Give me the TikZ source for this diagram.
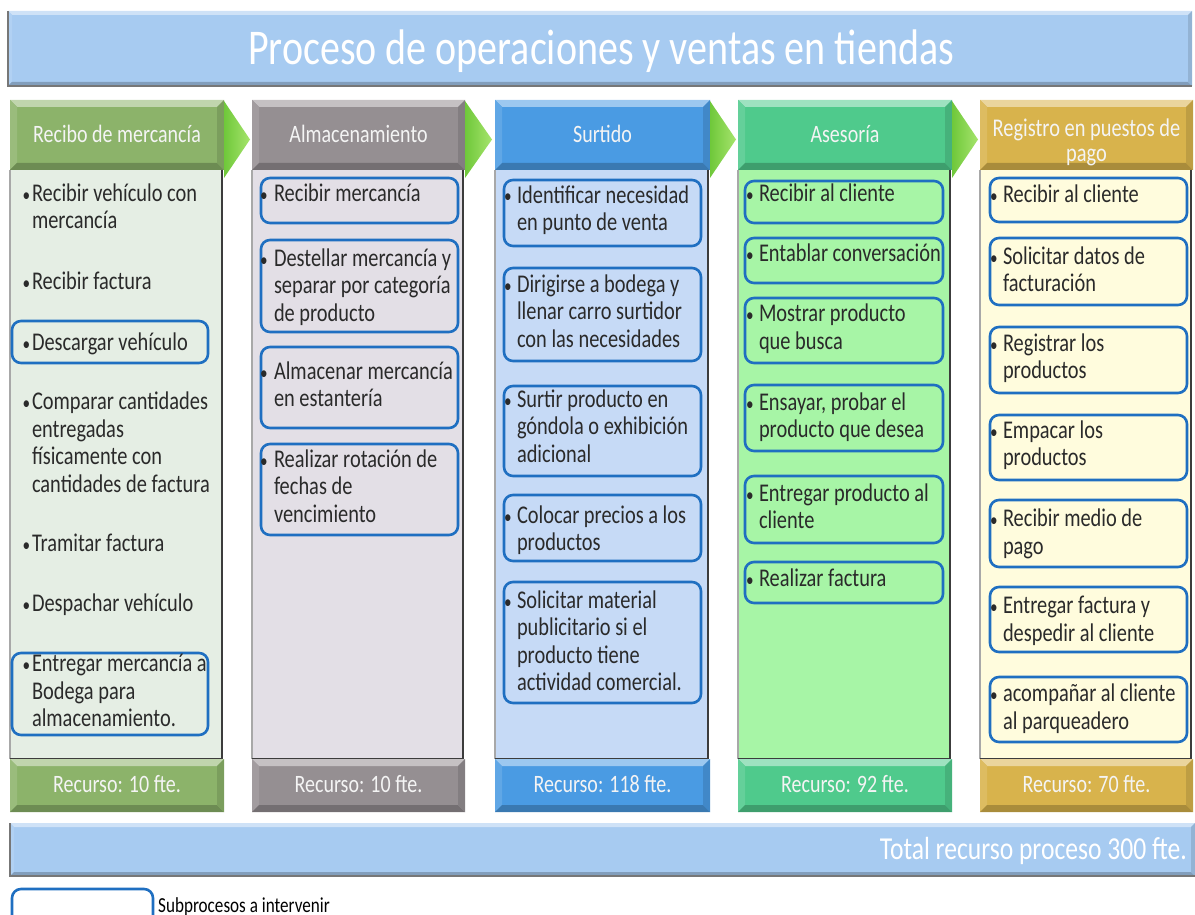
\documentclass[tikz,border=0pt]{standalone}
\usepackage{fontspec}
\setmainfont{Carlito}[FakeStretch=0.8]
\usetikzlibrary{calc,fit}

\definecolor{barblue}{HTML}{A7CBF1}
\definecolor{c1h}{HTML}{8CB36A}\definecolor{c1b}{HTML}{E5EEE4}
\definecolor{c2h}{HTML}{958F92}\definecolor{c2b}{HTML}{E3DFE6}
\definecolor{c3h}{HTML}{4A9BE3}\definecolor{c3b}{HTML}{C6DAF6}
\definecolor{c4h}{HTML}{4FCA8C}\definecolor{c4b}{HTML}{A7F5A6}
\definecolor{c5h}{HTML}{D8B34C}\definecolor{c5b}{HTML}{FFFCDD}
\definecolor{itemblue}{HTML}{1F6FC1}
\definecolor{itemtxt}{HTML}{2A2A2A}
\definecolor{headtxt}{HTML}{F4F4F4}
\definecolor{arrA}{HTML}{6FC83A}
\definecolor{arrB}{HTML}{A6E46C}
\definecolor{edgedark}{HTML}{3C3C3C}
\definecolor{edgelight}{HTML}{A8A8A8}

% bevelled fill: lighter top/left faces, darker bottom/right faces
\newcommand\bevelfill[2]{%
  \coordinate (bnw) at (path picture bounding box.north west);
  \coordinate (bse) at (path picture bounding box.south east);
  \coordinate (bne) at (bnw -| bse);
  \coordinate (bsw) at (bse -| bnw);
  \fill[#1!55!white] (bnw) -- (bne) -- ($(bne)+(-#2,#2)$) -- ($(bnw)+(#2,#2)$) -- cycle;
  \fill[#1!88!white] (bnw) -- ($(bnw)+(#2,#2)$) -- ($(bsw)+(#2,-#2)$) -- (bsw) -- cycle;
  \fill[#1!78!black] (bsw) -- (bse) -- ($(bse)+(-#2,-#2)$) -- ($(bsw)+(#2,-#2)$) -- cycle;
  \fill[#1!88!black] (bne) -- (bse) -- ($(bse)+(-#2,-#2)$) -- ($(bne)+(-#2,#2)$) -- cycle;
}

% bullet + item text; #2 bullet centre x, #3 text x, #4 first baseline
\newcommand\itm[5]{%
  \node[bul] (#1d) at (#2,#4) {•};
  \node[itemtext] (#1) at (#3,#4-19.25) {\strut #5};}

\begin{document}
\begin{tikzpicture}[x=1pt,y=-1pt,
  bevelbox/.style={draw=none, inner sep=0pt, outer sep=0pt, fill=#1, anchor=north west,
    path picture={\bevelfill{#1}{7}}},
  barbox/.style={draw=none, inner sep=0pt, outer sep=0pt, fill=#1, anchor=north west,
    path picture={\bevelfill{#1}{4}}},
  bodybox/.style={draw=none, inner sep=0pt, outer sep=0pt, fill=#1, anchor=north west},
  edgeR/.style={draw=edgedark, line width=2.4pt},
  edgeL/.style={draw=edgelight, line width=1.4pt},
  itembox/.style={draw=itemblue, line width=2.6pt, rounded corners=9pt, inner sep=0pt, outer sep=0pt},
  itemtext/.style={inner sep=0pt, outer sep=0pt, align=left, text=itemtxt,
    font=\fontsize{25.5}{27.5}\selectfont, anchor=north west},
  bul/.style={inner sep=0pt, outer sep=0pt, text=itemtxt, font=\fontsize{19}{20}\selectfont, anchor=base},
  headtext/.style={inner sep=0pt, text=headtxt, font=\fontsize{25}{22}\selectfont, anchor=base, align=center},
  chev/.style={left color=arrA, right color=arrB, draw=none}
]
\useasboundingbox (0,0) rectangle (1195,915);
\clip (0,0) rectangle (1195,915);

% title bar
\node[barbox=barblue, minimum width=1184pt, minimum height=75pt] (title) at (8,11) {};
\draw[edgedark!70, line width=1.6pt] (title.north west) -- (title.south west) -- (title.south east);
\node[inner sep=0pt, text=white, font=\fontsize{50}{56}\selectfont, anchor=base] (titletxt) at (601,65)
  {Proceso de operaciones y ventas en tiendas};

% lane headers
\node[bevelbox=c1h, minimum width=214pt, minimum height=70pt] (h1) at (10,100) {};
\node[bevelbox=c2h, minimum width=213pt, minimum height=70pt] (h2) at (252,100) {};
\node[bevelbox=c3h, minimum width=215pt, minimum height=70pt] (h3) at (495,100) {};
\node[bevelbox=c4h, minimum width=214pt, minimum height=70pt] (h4) at (738,100) {};
\node[bevelbox=c5h, minimum width=213pt, minimum height=70pt] (h5) at (980,100) {};
\node[headtext] (h1t) at (117,143) {Recibo de mercancía};
\node[headtext] (h2t) at (358.5,143) {Almacenamiento};
\node[headtext] (h3t) at (602.5,143) {Surtido};
\node[headtext] (h4t) at (845,143) {Asesoría};
% two-line title: the base anchor sits on the last line
\node[headtext, font=\fontsize{25.5}{25}\selectfont] (h5t) at (1086.5,162) {Registro en puestos de\\pago};

% chevrons between lanes
\foreach \a/\b in {h1/h2,h2/h3,h3/h4,h4/h5}{
  \path[chev] ($(\a.north east)+(0,1)$) -- ($(\a.south east)+(0,8)$)
    -- ($(\a.east)!0.5!(\b.west)+(12,4.5)$) -- cycle;
}

% lane bodies
\node[bodybox=c1b, minimum width=212pt, minimum height=589pt] (b1) at (10,170) {};
\node[bodybox=c2b, minimum width=211pt, minimum height=589pt] (b2) at (252,170) {};
\node[bodybox=c3b, minimum width=213pt, minimum height=589pt] (b3) at (495,170) {};
\node[bodybox=c4b, minimum width=212pt, minimum height=589pt] (b4) at (738,170) {};
\node[bodybox=c5b, minimum width=211pt, minimum height=589pt] (b5) at (980,170) {};
\foreach \n in {b1,b2,b3,b4,b5}{
  \draw[edgeL] (\n.north west) -- (\n.south west);
  \draw[edgeR] (\n.north east) -- (\n.south east) -- (\n.south west);
}

% lane footers
\node[bevelbox=c1h, minimum width=214pt, minimum height=53pt] (f1) at (10,759) {};
\node[bevelbox=c2h, minimum width=213pt, minimum height=53pt] (f2) at (252,759) {};
\node[bevelbox=c3h, minimum width=215pt, minimum height=53pt] (f3) at (495,759) {};
\node[bevelbox=c4h, minimum width=214pt, minimum height=53pt] (f4) at (738,759) {};
\node[bevelbox=c5h, minimum width=213pt, minimum height=53pt] (f5) at (980,759) {};
\node[headtext] (f1t) at (117,792) {Recurso: 10 fte.};
\node[headtext] (f2t) at (358.5,792) {Recurso: 10 fte.};
\node[headtext] (f3t) at (602.5,792) {Recurso: 118 fte.};
\node[headtext] (f4t) at (845,792) {Recurso: 92 fte.};
\node[headtext] (f5t) at (1086.5,792) {Recurso: 70 fte.};

% lane 1: Recibo de mercancía
\node[itembox, fit={(12,321) (208,363)}] (a3box) {};
\node[itembox, fit={(12,653) (208,735)}] (a7box) {};
\itm{a1}{26.5}{32}{201.5}{Recibir vehículo con\\mercancía}
\itm{a2}{26.5}{32}{289}{Recibir factura}
\itm{a3}{26.5}{32}{350}{Descargar vehículo}
\itm{a4}{26.5}{32}{409.5}{Comparar cantidades\\entregadas\\físicamente con\\cantidades de factura}
\itm{a5}{26.5}{32}{551.5}{Tramitar factura}
\itm{a6}{26.5}{32}{611.5}{Despachar vehículo}
\itm{a7}{26.5}{32}{671.5}{Entregar mercancía a\\Bodega para\\almacenamiento.}

% lane 2: Almacenamiento
\node[itembox, fit={(261,178) (458,223)}] (p1box) {};
\node[itembox, fit={(261,240) (458,332)}] (p2box) {};
\node[itembox, fit={(261,347) (458,428)}] (p3box) {};
\node[itembox, fit={(261,444) (458,535)}] (p4box) {};
\itm{p1}{264}{274}{201.5}{Recibir mercancía}
\itm{p2}{264}{274}{266}{Destellar mercancía y\\separar por categoría\\de producto}
\itm{p3}{264}{274}{379}{Almacenar mercancía\\en estantería}
\itm{p4}{264}{274}{467}{Realizar rotación de\\fechas de\\vencimiento}

% lane 3: Surtido
\node[itembox, fit={(504,180) (701,246)}] (s1box) {};
\node[itembox, fit={(504,268) (701,361)}] (s2box) {};
\node[itembox, fit={(504,386) (701,476)}] (s3box) {};
\node[itembox, fit={(504,495) (701,561)}] (s4box) {};
\node[itembox, fit={(504,582) (701,703)}] (s5box) {};
\itm{s1}{508}{517}{203}{Identificar necesidad\\en punto de venta}
\itm{s2}{508}{517}{292}{Dirigirse a bodega y\\llenar carro surtidor\\con las necesidades}
\itm{s3}{508}{517}{407}{Surtir producto en\\góndola o exhibición\\adicional}
\itm{s4}{508}{517}{523}{Colocar precios a los\\productos}
\itm{s5}{508}{517}{608}{Solicitar material\\publicitario si el\\producto tiene\\actividad comercial.}

% lane 4: Asesoría
\node[itembox, fit={(745,181) (943,223)}] (r1box) {};
\node[itembox, fit={(745,238) (943,283)}] (r2box) {};
\node[itembox, fit={(745,298) (943,363)}] (r3box) {};
\node[itembox, fit={(745,385) (943,451)}] (r4box) {};
\node[itembox, fit={(745,476) (943,543)}] (r5box) {};
\node[itembox, fit={(745,562) (943,603)}] (r6box) {};
\itm{r1}{750}{759}{201.5}{Recibir al cliente}
\itm{r2}{750}{759}{261.5}{Entablar conversación}
\itm{r3}{750}{759}{321.5}{Mostrar producto\\que busca}
\itm{r4}{750}{759}{410}{Ensayar, probar el\\producto que desea}
\itm{r5}{750}{759}{501}{Entregar producto al\\cliente}
\itm{r6}{750}{759}{586.5}{Realizar factura}

% lane 5: Registro en puestos de pago
\node[itembox, fit={(990,178) (1187,222)}] (g1box) {};
\node[itembox, fit={(990,238) (1187,305)}] (g2box) {};
\node[itembox, fit={(990,327) (1187,393)}] (g3box) {};
\node[itembox, fit={(990,415) (1187,480)}] (g4box) {};
\node[itembox, fit={(990,500) (1187,567)}] (g5box) {};
\node[itembox, fit={(990,587) (1187,652)}] (g6box) {};
\node[itembox, fit={(990,677) (1187,742)}] (g7box) {};
\itm{g1}{994}{1003}{203}{Recibir al cliente}
\itm{g2}{994}{1003}{264}{Solicitar datos de\\facturación}
\itm{g3}{994}{1003}{351}{Registrar los\\productos}
\itm{g4}{994}{1003}{438}{Empacar los\\productos}
\itm{g5}{994}{1003}{526.5}{Recibir medio de\\pago}
\itm{g6}{994}{1003}{613.5}{Entregar factura y\\despedir al cliente}
\itm{g7}{994}{1003}{701.5}{acompañar al cliente\\al parqueadero}

% total bar
\node[barbox=barblue, minimum width=1185pt, minimum height=53pt] (total) at (10,823) {};
\draw[edgedark!70, line width=1.6pt] (total.north west) -- (total.south west) -- (total.south east);
\node[inner sep=0pt, text=white, font=\fontsize{32}{36}\selectfont, anchor=base east] (totaltxt) at (1187,859)
  {Total recurso proceso 300 fte.};

% legend
\node[itembox, fit={(12,889) (153,935)}] (legbox) {};
\node[inner sep=0pt, text=black, font=\fontsize{21.4}{24}\selectfont, anchor=base west] (legtxt) at (158,912)
  {Subprocesos a intervenir};
\end{tikzpicture}
\end{document}
